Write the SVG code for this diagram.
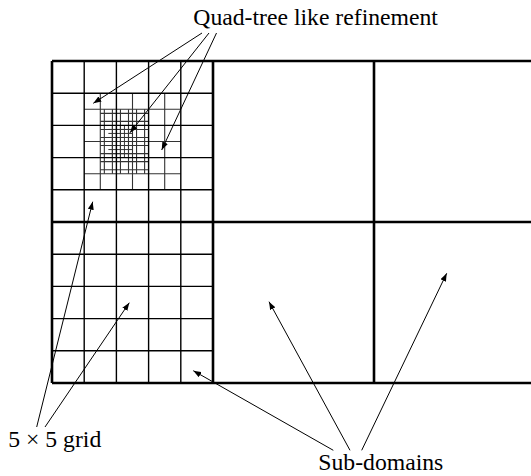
<svg xmlns="http://www.w3.org/2000/svg" width="531" height="476" viewBox="0 0 531 476">
<style>
.bd{stroke:#000;stroke-width:2.6;fill:none}
.g0{stroke:#000;stroke-width:1.4;fill:none}
.g1{stroke:#333;stroke-width:1.1;fill:none}
.g3{stroke:#222;stroke-width:0.9;fill:none}
.lbl{font-family:"Liberation Serif","Times New Roman",serif;font-size:23.7px;fill:#000}
.ar{stroke:#000;stroke-width:1;fill:none;marker-end:url(#ah)}
</style>
<defs>
<marker id="ah" markerUnits="userSpaceOnUse" markerWidth="8" markerHeight="6" refX="8" refY="3" orient="auto">
<path d="M0,0 L8,3 L0,6 z" fill="#000"/>
</marker>
</defs>
<rect width="531" height="476" fill="#fff"/>
<g id="subdomain-top-left">
<path class="g3" d="M112.375,125.4V157.6M116.4,125.4V157.6M120.425,125.4V157.6M124.45,125.4V157.6M128.475,125.4V157.6M108.35,129.425H132.5M108.35,133.45H132.5M108.35,137.475H132.5M108.35,141.5H132.5M108.35,145.525H132.5M108.35,149.55H132.5M108.35,153.575H132.5"/>
<path class="g1" d="M104.35,109.3V173.7M112.4,109.3V173.7M120.45,109.3V173.7M128.5,109.3V173.7M136.55,109.3V173.7M144.6,109.3V173.7M100.3,113.35H148.6M100.3,121.4H148.6M100.3,129.45H148.6M100.3,137.5H148.6M100.3,145.55H148.6M100.3,153.6H148.6M100.3,161.65H148.6M100.3,169.7H148.6"/>
<path class="g1" d="M100.3,93.2V189.8M132.5,93.2V189.8M164.7,93.2V189.8M84.2,109.3H180.8M84.2,141.5H180.8M84.2,173.7H180.8"/>
<path class="g0" d="M84.2,61V222M116.4,61V222M148.6,61V222M180.8,61V222M52,93.2H213M52,125.4H213M52,157.6H213M52,189.8H213"/>
</g>
<g id="subdomain-bottom-left">
<path class="g0" d="M84.2,222V383M116.4,222V383M148.6,222V383M180.8,222V383M52,254.2H213M52,286.4H213M52,318.6H213M52,350.8H213"/>
</g>
<g id="subdomain-top-middle"><rect x="213" y="61" width="161" height="161" fill="none"/></g>
<g id="subdomain-top-right"><rect x="374" y="61" width="157" height="161" fill="none"/></g>
<g id="subdomain-bottom-middle"><rect x="213" y="222" width="161" height="161" fill="none"/></g>
<g id="subdomain-bottom-right"><rect x="374" y="222" width="157" height="161" fill="none"/></g>
<g id="borders">
<path class="bd" d="M52,61V383M213,61V383M374,61V383M52,61H531M52,222H531M52,383H531"/>
</g>
<g id="label-quadtree"><text class="lbl" x="193.3" y="25">Quad-tree like refinement</text></g>
<g id="label-grid"><text class="lbl" x="8.3" y="446.7">5 × 5 grid</text></g>
<g id="label-subdomains"><text class="lbl" x="318.3" y="470">Sub-domains</text></g>
<g id="connectors">
<line class="ar" x1="202" y1="33" x2="93.3" y2="103.3"/>
<line class="ar" x1="209" y1="33" x2="130" y2="132.7"/>
<line class="ar" x1="216.5" y1="33" x2="161.7" y2="150"/>
<line class="ar" x1="36.7" y1="427" x2="92.7" y2="201.7"/>
<line class="ar" x1="45" y1="427" x2="129.3" y2="302.7"/>
<line class="ar" x1="333.3" y1="450.3" x2="193.3" y2="370.7"/>
<line class="ar" x1="350" y1="450.3" x2="269" y2="301.7"/>
<line class="ar" x1="361.7" y1="450.3" x2="446.7" y2="273.3"/>
</g>
</svg>
